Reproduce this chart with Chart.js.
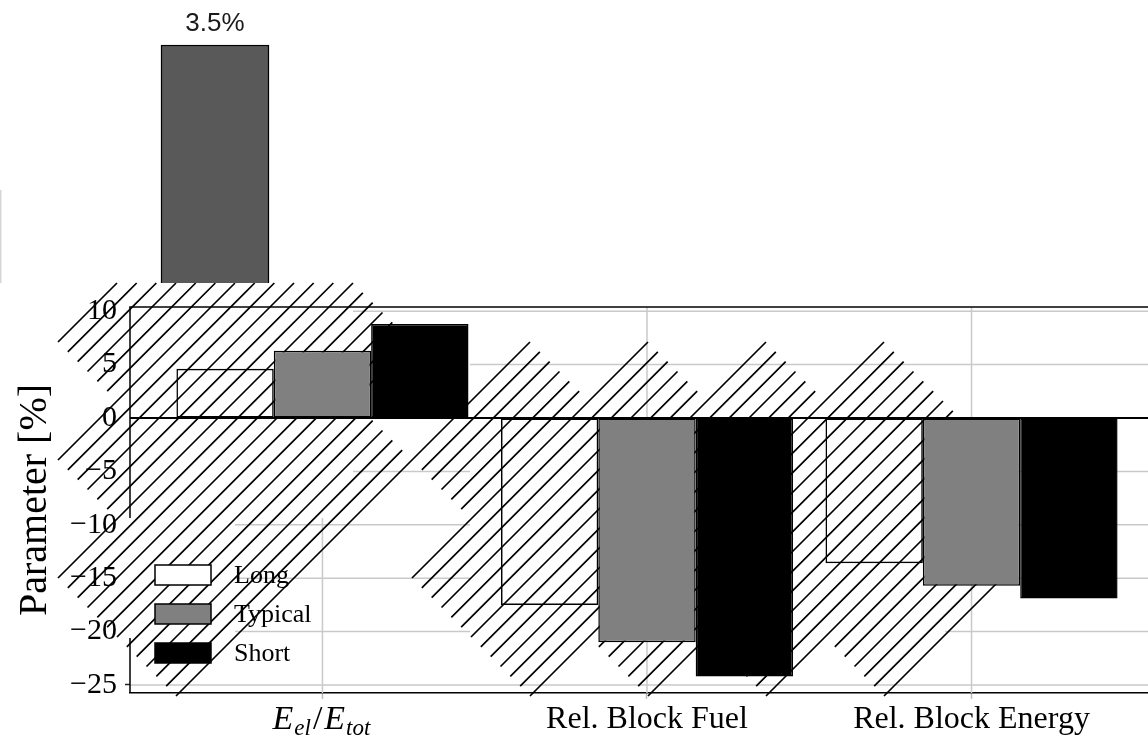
<!DOCTYPE html>
<html>
<head>
<meta charset="utf-8">
<title>Parameter comparison</title>
<script src="https://cdn.jsdelivr.net/npm/chart.js@4.4.1/dist/chart.umd.min.js"></script>
<style>
  html, body { margin: 0; padding: 0; background: #fff; width: 1148px; height: 738px; overflow: hidden; }
  #wrap { position: relative; width: 1148px; height: 738px; overflow: hidden; background: #fff; }
  #main, #inset { position: absolute; left: 0; top: 0; }
</style>
</head>
<body>
<div id="wrap">
  <canvas id="main" width="1200" height="738"></canvas>
  <canvas id="inset" width="430" height="283"></canvas>
</div>
<script>
// ---- data ----
const categories = ['E_el/E_tot', 'Rel. Block Fuel', 'Rel. Block Energy'];
const seriesNames = ['Long', 'Typical', 'Short'];
const longValues = [4.6, -17.5, -13.6];
const typicalValues = [6.3, -21.0, -15.7];
const shortValues = [8.8, -24.2, -16.9];
const yTicks = [-25, -20, -15, -10, -5, 0, 5, 10];
const insetLabels = [''];
const insetValues = [3.5];

// ---- styling ----
const SERIF = "'Liberation Serif', 'Times New Roman', serif";
const SANS = "'Liberation Sans', Arial, sans-serif";
const seriesFill = ['rgba(255,255,255,0)', '#808080', '#000000'];
const legendFill = ['#ffffff', '#808080', '#000000'];
const GRID = '#c9c9c9';
const NONE = 'rgba(0,0,0,0)';

// visible pieces of the grid, in canvas px (null = edge of the plot area)
const hGridSpans = {
  '10': [[353, null]],
  '5': [[470, null]],
  '-5': [[353, 470], [945, null]],
  '-10': [[235, 470], [945, null]],
  '-15': [[235, 470], [945, null]],
  '-20': [[235, 470], [945, null]],
  '-25': [[null, null]]
};
const vGridSpans = [
  [[518, null]],
  [[null, null]],
  [[null, null]]
];
const yAxisSpans = [[null, 518], [638, null]];

// diagonal hatch, laid out on a 45-degree tile lattice (u = x + y, v = x - y)
const HATCH = { tile: 118, u0: 872, v0: 70, lines: 6, top: 283 };
const hatchTiles = [
  [-4, -3], [-4, -2],
  [-3, -4], [-3, -3], [-3, -2], [-3, -1],
  [-2, -5], [-2, -4], [-2, -3], [-2, -2], [-2, -1],
  [-1, -5], [-1, -4], [-1, -3], [-1, -2],
  [0, 0], [0, -1],
  [1, 1], [1, 0], [1, -1], [1, -2],
  [2, 2], [2, 1], [2, 0], [2, -1], [2, -2],
  [3, 3], [3, 2], [3, 1], [3, 0], [3, -1],
  [4, 3], [4, 2], [4, 1], [4, 0],
  [5, 2], [5, 1]
];

function toSeries(values) {
  return values.map((v, i) => ({ x: i, y: v }));
}

function minusSign(v) {
  return v < 0 ? '\u2212' + Math.abs(v) : String(v);
}

// draws "E_el/E_tot" style labels with italic symbols and subscripts
function drawMathLabel(ctx, text, cx, baseline) {
  const parts = [];
  text.split('/').forEach((piece, k) => {
    if (k > 0) parts.push({ t: '/', font: '34px ' + SERIF, dy: 0, gap: 2 });
    const [base, sub] = piece.split('_');
    parts.push({ t: base, font: 'italic 34px ' + SERIF, dy: 0, gap: 1 });
    if (sub) parts.push({ t: sub, font: 'italic 23px ' + SERIF, dy: 6, gap: 2 });
  });
  let total = 0;
  parts.forEach(p => { ctx.font = p.font; p.w = ctx.measureText(p.t).width; total += p.w + p.gap; });
  let x = cx - total / 2;
  ctx.textAlign = 'left';
  parts.forEach(p => {
    ctx.font = p.font;
    ctx.fillText(p.t, x, baseline + p.dy);
    x += p.w + p.gap;
  });
}

function addSeg(ctx, x1, y1, x2, y2) {
  ctx.moveTo(x1, y1);
  ctx.lineTo(x2, y2);
}

function drawHatch(ctx) {
  ctx.save();
  ctx.strokeStyle = '#000';
  ctx.lineWidth = 1.7;
  ctx.lineCap = 'butt';
  ctx.beginPath();
  const step = HATCH.tile / HATCH.lines;
  hatchTiles.forEach(([a, b]) => {
    const ua = HATCH.u0 + a * HATCH.tile;
    const vb = HATCH.v0 + b * HATCH.tile;
    for (let j = 0; j <= HATCH.lines; j++) {
      const u = ua + j * step;
      const x1 = (u + vb) / 2, y1 = (u - vb) / 2;
      let x2 = (u + vb + HATCH.tile) / 2, y2 = (u - vb - HATCH.tile) / 2;
      if (y1 <= HATCH.top) continue;
      if (y2 < HATCH.top) { x2 = x1 + (y1 - HATCH.top); y2 = HATCH.top; }
      addSeg(ctx, x1, y1, x2, y2);
    }
  });
  ctx.stroke();
  ctx.restore();
}

const backdrop = {
  id: 'backdrop',
  beforeDatasetsDraw(chart) {
    const { ctx, chartArea: ca, scales: { x, y } } = chart;
    const L = v => (v === null ? ca.left : v);
    const R = v => (v === null ? ca.right : v);
    const T = v => (v === null ? ca.top : v);
    const B = v => (v === null ? ca.bottom : v);
    ctx.save();
    ctx.strokeStyle = GRID;
    ctx.lineWidth = 1.5;
    ctx.beginPath();
    yTicks.forEach(v => {
      const spans = hGridSpans[String(v)];
      if (!spans) return;
      const py = y.getPixelForValue(v);
      spans.forEach(([a, b]) => addSeg(ctx, L(a), py, R(b), py));
    });
    categories.forEach((_, i) => {
      const px = x.getPixelForValue(i);
      vGridSpans[i].forEach(([a, b]) => addSeg(ctx, px, T(a), px, B(b)));
    });
    ctx.stroke();

    ctx.strokeStyle = '#000';
    ctx.lineWidth = 1.5;
    ctx.beginPath();
    yAxisSpans.forEach(([a, b]) => addSeg(ctx, ca.left, T(a), ca.left, B(b)));
    ctx.stroke();
    ctx.restore();

    drawHatch(ctx);

    ctx.save();
    ctx.strokeStyle = '#000';
    const y0 = y.getPixelForValue(0);
    ctx.lineWidth = 2;
    ctx.beginPath();
    addSeg(ctx, ca.left, y0, ca.right, y0);
    ctx.stroke();
    ctx.lineWidth = 1.5;
    ctx.beginPath();
    addSeg(ctx, ca.left - 0.75, ca.top, ca.right, ca.top);
    ctx.stroke();
    ctx.restore();
  },
  afterDatasetsDraw(chart) {
    const { ctx, scales: { x } } = chart;
    ctx.save();
    const rows = [575, 614, 653];
    chart.data.datasets.forEach((ds, i) => {
      const cy = rows[i];
      ctx.fillStyle = legendFill[i];
      ctx.fillRect(155, cy - 10, 56, 20);
      ctx.strokeStyle = '#000';
      ctx.lineWidth = 1.5;
      ctx.strokeRect(155, cy - 10, 56, 20);
      ctx.fillStyle = '#000';
      ctx.font = '26px ' + SERIF;
      ctx.textAlign = 'left';
      ctx.textBaseline = 'middle';
      ctx.fillText(ds.label, 234, cy + 1);
    });
    ctx.fillStyle = '#000';
    ctx.textBaseline = 'alphabetic';
    categories.forEach((label, i) => {
      const px = x.getPixelForValue(i);
      if (label.includes('_')) {
        drawMathLabel(ctx, label, px, 729);
      } else {
        ctx.font = '32px ' + SERIF;
        ctx.textAlign = 'center';
        ctx.fillText(label, px, 728);
      }
    });
    ctx.restore();
  }
};

const seriesValues = [longValues, typicalValues, shortValues];

new Chart(document.getElementById('main'), {
  type: 'bar',
  data: {
    datasets: seriesNames.map((name, i) => ({
      label: name,
      data: toSeries(seriesValues[i]),
      backgroundColor: seriesFill[i],
      borderColor: '#000',
      borderWidth: 1.5,
      borderSkipped: false,
      inflateAmount: 0,
      categoryPercentage: 0.9,
      barPercentage: 1.0
    }))
  },
  options: {
    responsive: false,
    animation: false,
    devicePixelRatio: 1,
    layout: { padding: { top: 307, left: 0, right: 0, bottom: 0 } },
    plugins: { legend: { display: false }, tooltip: { enabled: false } },
    scales: {
      x: {
        type: 'linear',
        min: -0.593,
        max: 2.704,
        offset: false,
        afterBuildTicks: s => { s.ticks = categories.map((_, i) => ({ value: i })); },
        afterFit: s => { s.height = 45; },
        ticks: { display: false },
        grid: { offset: false, color: NONE, drawTicks: true, tickLength: 6, tickColor: '#bdbdbd', tickWidth: 1.5 },
        border: { display: true, color: '#000', width: 1.5 }
      },
      y: {
        min: -25.75,
        max: 10.39,
        afterBuildTicks: s => { s.ticks = yTicks.map(v => ({ value: v })); },
        afterFit: s => { s.width = 130; },
        ticks: {
          color: '#000',
          padding: 8,
          font: { family: SERIF, size: 30 },
          callback: v => minusSign(v)
        },
        grid: {
          color: NONE,
          tickLength: 5,
          tickColor: c => (c.tick && c.tick.value === -25 ? '#222' : NONE),
          tickWidth: 1.5
        },
        border: { display: false },
        title: {
          display: true,
          text: 'Parameter [%]',
          color: '#000',
          font: { family: SERIF, size: 40, lineHeight: 1 },
          padding: { top: 15, bottom: 0 }
        }
      }
    }
  },
  plugins: [backdrop]
});

// small companion panel with a single bar and its value label
const insetDecor = {
  id: 'insetDecor',
  afterDatasetsDraw(chart) {
    const { ctx } = chart;
    const bar = chart.getDatasetMeta(0).data[0];
    ctx.save();
    ctx.fillStyle = '#1a1a1a';
    ctx.font = '26px ' + SANS;
    ctx.textAlign = 'center';
    ctx.textBaseline = 'alphabetic';
    ctx.fillText(insetValues[0].toFixed(1) + '%', bar.x, bar.y - 14);
    ctx.strokeStyle = '#d6d6d6';
    ctx.lineWidth = 1.5;
    ctx.beginPath();
    ctx.moveTo(0.75, 190);
    ctx.lineTo(0.75, chart.height);
    ctx.stroke();
    ctx.restore();
  }
};

new Chart(document.getElementById('inset'), {
  type: 'bar',
  data: {
    labels: insetLabels,
    datasets: [{
      data: insetValues,
      backgroundColor: '#595959',
      borderColor: '#000',
      borderWidth: 1.5,
      barThickness: 108
    }]
  },
  options: {
    responsive: false,
    animation: false,
    devicePixelRatio: 1,
    layout: { padding: 0 },
    plugins: { legend: { display: false }, tooltip: { enabled: false } },
    scales: {
      x: { display: false },
      y: { display: false, min: 0, max: 4.162 }
    }
  },
  plugins: [insetDecor]
});
</script>
</body>
</html>
